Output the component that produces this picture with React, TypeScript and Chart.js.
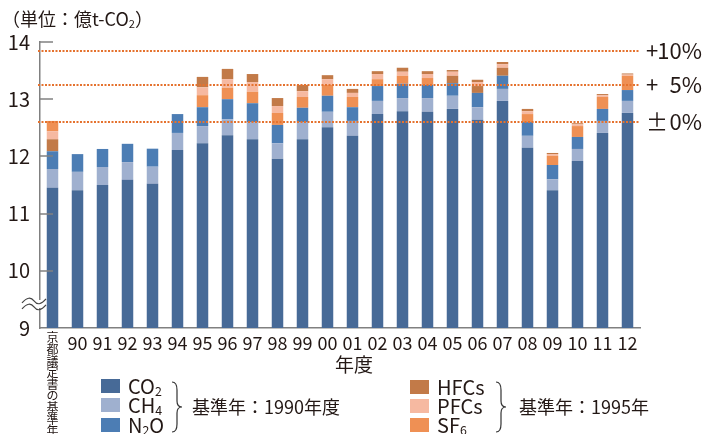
import React, { useEffect, useRef } from 'react';
import { Chart, registerables } from 'chart.js';

Chart.register(...registerables);

// ---------- data ----------
const baseYearLabel = '京都議定書の基準年';
const years = ['90', '91', '92', '93', '94', '95', '96', '97', '98', '99', '00', '01', '02', '03', '04', '05', '06', '07', '08', '09', '10', '11', '12'];
const categories: (string | string[])[] = [Array.from(baseYearLabel), ...years];

const co2 = [11.45, 11.41, 11.5, 11.59, 11.52, 12.11, 12.23, 12.37, 12.3, 11.96, 12.3, 12.51, 12.36, 12.74, 12.79, 12.78, 12.83, 12.64, 12.97, 12.15, 11.41, 11.92, 12.41, 12.76];
const ch4 = [0.33, 0.32, 0.315, 0.31, 0.3, 0.3, 0.3, 0.28, 0.3, 0.27, 0.3, 0.27, 0.26, 0.23, 0.23, 0.24, 0.23, 0.22, 0.21, 0.21, 0.19, 0.21, 0.21, 0.21];
const n2o = [0.31, 0.31, 0.315, 0.32, 0.315, 0.33, 0.33, 0.35, 0.33, 0.32, 0.25, 0.28, 0.24, 0.26, 0.25, 0.23, 0.22, 0.25, 0.23, 0.24, 0.25, 0.21, 0.21, 0.19];
// F-gas segments, in the stacking order they appear in the picture
const hfcsLower = [0.21, null, null, null, null, null, null, null, null, null, null, null, null, null, null, null, 0.13, 0.12, 0.14, null, null, null, null, null];
const sf6Lower = [null, null, null, null, null, null, 0.21, 0.2, 0.2, 0.21, 0.19, 0.19, 0.18, 0.12, 0.14, 0.12, null, null, null, 0.14, 0.16, 0.19, 0.21, 0.25];
const pfcs = [0.14, null, null, null, null, null, 0.14, 0.15, 0.17, 0.12, 0.1, 0.1, 0.07, 0.09, 0.07, 0.07, 0.07, 0.07, 0.06, 0.05, 0.03, 0.03, 0.03, 0.02];
const sf6Upper = [0.18, null, null, null, null, null, null, null, null, null, null, null, null, null, null, null, null, null, null, null, null, null, null, null];
const hfcsUpper = [null, null, null, null, null, null, 0.18, 0.18, 0.14, 0.14, 0.11, 0.07, 0.07, 0.05, 0.07, 0.05, 0.03, 0.04, 0.04, 0.04, 0.02, 0.02, 0.02, 0.02];

const yTicks = [9, 10, 11, 12, 13, 14];
const refValues = [13.85, 13.25, 12.61];
const refSigns = ['+', '+', '±'];
const refNumbers = ['10%', '5%', '0%'];
const breakAt = 9.42;

// ---------- styles ----------
const FONT = '"Noto Sans CJK JP", "Noto Sans", sans-serif';
const TEXT = '#231815';
const AXIS = '#808080';
const REF = '#e5722e';
const C_CO2 = '#476a97';
const C_CH4 = '#9fb0cf';
const C_N2O = '#4c7db4';
const C_HFC = '#c27a48';
const C_PFC = '#f6b9a1';
const C_SF6 = '#ef9054';

const overlayPlugin = {
  id: 'overlay',
  afterDatasetsDraw(chart: any) {
    const { ctx, chartArea, scales } = chart;
    const { left, right } = chartArea;
    const y = scales.y;
    ctx.save();
    // inward tick marks
    ctx.strokeStyle = AXIS;
    ctx.lineWidth = 1.5;
    yTicks.forEach((v) => {
      if (v === yTicks[0]) return;
      const py = Math.round(y.getPixelForValue(v));
      ctx.beginPath();
      ctx.moveTo(left, py);
      ctx.lineTo(left + 13, py);
      ctx.stroke();
    });
    // reference lines
    ctx.strokeStyle = REF;
    ctx.lineWidth = 2;
    ctx.setLineDash([2, 1.5]);
    refValues.forEach((v) => {
      const py = Math.round(y.getPixelForValue(v));
      ctx.beginPath();
      ctx.moveTo(left - 2, py);
      ctx.lineTo(right, py);
      ctx.stroke();
    });
    ctx.setLineDash([]);
    // reference labels
    ctx.fillStyle = TEXT;
    ctx.font = `22px ${FONT}`;
    ctx.textBaseline = 'middle';
    refValues.forEach((v, i) => {
      const py = y.getPixelForValue(v);
      ctx.textAlign = 'left';
      ctx.fillText(refSigns[i], right + 6, py);
      ctx.textAlign = 'right';
      ctx.fillText(refNumbers[i], right + 62, py);
    });
    // axis break
    const yb = y.getPixelForValue(breakAt);
    ctx.fillStyle = '#ffffff';
    ctx.fillRect(left - 3, yb - 4, 6, 8);
    ctx.strokeStyle = '#444';
    ctx.lineWidth = 1.2;
    [-3, 3].forEach((o) => {
      const yy = yb + o;
      ctx.beginPath();
      ctx.moveTo(left - 18, yy + 2);
      ctx.bezierCurveTo(left - 13, yy - 4, left - 9, yy - 4, left - 6, yy);
      ctx.bezierCurveTo(left - 3, yy + 4, left + 1, yy + 4, left + 6, yy - 2);
      ctx.stroke();
    });
    ctx.restore();
  },
};

const Sub = ({ children }: { children: React.ReactNode }) => (
  <span style={{ fontSize: '0.62em', position: 'relative', top: '0.15em' }}>{children}</span>
);

const Brace = ({ left, top }: { left: number; top: number }) => (
  <svg style={{ position: 'absolute', left, top }} width={14} height={52}>
    <path d="M1,1 Q6,1 6,9 L6,20 Q6,26 11,26 Q6,26 6,32 L6,43 Q6,51 1,51" fill="none" stroke="#333" strokeWidth={1.2} />
  </svg>
);

const LegendItem = ({ left, top, color, children }: { left: number; top: number; color: string; children: React.ReactNode }) => (
  <>
    <div style={{ position: 'absolute', left, top, width: 19, height: 14, background: color }} />
    <div style={{ position: 'absolute', left: left + 27, top: top - 5, fontSize: 20, lineHeight: '24px', whiteSpace: 'nowrap' }}>{children}</div>
  </>
);

export default function App() {
  const ref = useRef<HTMLCanvasElement | null>(null);
  useEffect(() => {
    if (!ref.current) return;
    const ds = (label: string, data: (number | null)[], color: string) => ({
      label,
      data,
      backgroundColor: color,
      borderWidth: 0,
      barPercentage: 1,
      categoryPercentage: 0.46,
    });
    const chart = new Chart(ref.current, {
      type: 'bar',
      data: {
        labels: categories as any,
        datasets: [
          ds('CO2', co2, C_CO2),
          ds('CH4', ch4, C_CH4),
          ds('N2O', n2o, C_N2O),
          ds('HFCs', hfcsLower, C_HFC),
          ds('SF6', sf6Lower, C_SF6),
          ds('PFCs', pfcs, C_PFC),
          ds('SF6', sf6Upper, C_SF6),
          ds('HFCs', hfcsUpper, C_HFC),
        ] as any,
      },
      options: {
        responsive: false,
        animation: false,
        events: [],
        layout: { padding: { top: 42, right: 78, left: 0, bottom: 0 } },
        plugins: { legend: { display: false }, tooltip: { enabled: false } },
        scales: {
          x: {
            stacked: true,
            grid: { display: false, drawTicks: false },
            border: { display: true, color: AXIS, width: 1.5 },
            ticks: {
              autoSkip: false,
              maxRotation: 0,
              minRotation: 0,
              padding: 4,
              color: TEXT,
              font: (c: any) =>
                c.index === 0
                  ? { family: FONT, size: 12, lineHeight: '11.6px' }
                  : { family: FONT, size: 18, lineHeight: 1.2 },
            },
            afterFit: (s: any) => {
              s.height = 106;
            },
          },
          y: {
            stacked: true,
            min: yTicks[0],
            max: yTicks[yTicks.length - 1],
            grid: { display: false, drawTicks: false },
            border: { display: true, color: AXIS, width: 1.5 },
            ticks: { stepSize: 1, padding: 10, color: TEXT, font: { family: FONT, size: 20 } },
            afterFit: (s: any) => {
              s.width = 40;
            },
          },
        },
      } as any,
      plugins: [overlayPlugin],
    });
    return () => chart.destroy();
  }, []);

  return (
    <div style={{ position: 'absolute', left: 0, top: 0, width: 718, height: 434, background: '#fff', fontFamily: FONT, color: TEXT, overflow: 'hidden' }}>
      <canvas ref={ref} width={718} height={434} style={{ position: 'absolute', left: 0, top: 0 }} />
      <div style={{ position: 'absolute', left: 2, top: 6, fontSize: 18, lineHeight: '24px', whiteSpace: 'nowrap' }}>
        （単位：億t-CO<Sub>2</Sub>）
      </div>
      <div style={{ position: 'absolute', left: 335, top: 352, fontSize: 19, lineHeight: '24px' }}>年度</div>
      <LegendItem left={101} top={379} color={C_CO2}>CO<Sub>2</Sub></LegendItem>
      <LegendItem left={101} top={398} color={C_CH4}>CH<Sub>4</Sub></LegendItem>
      <LegendItem left={101} top={418} color={C_N2O}>N<Sub>2</Sub>O</LegendItem>
      <Brace left={171} top={381} />
      <div style={{ position: 'absolute', left: 192, top: 394, fontSize: 18, lineHeight: '24px', whiteSpace: 'nowrap' }}>基準年：1990年度</div>
      <LegendItem left={410} top={380} color={C_HFC}>HFCs</LegendItem>
      <LegendItem left={410} top={399} color={C_PFC}>PFCs</LegendItem>
      <LegendItem left={410} top={418} color={C_SF6}>SF<Sub>6</Sub></LegendItem>
      <Brace left={495} top={381} />
      <div style={{ position: 'absolute', left: 519, top: 394, fontSize: 18, lineHeight: '24px', whiteSpace: 'nowrap' }}>基準年：1995年</div>
    </div>
  );
}
